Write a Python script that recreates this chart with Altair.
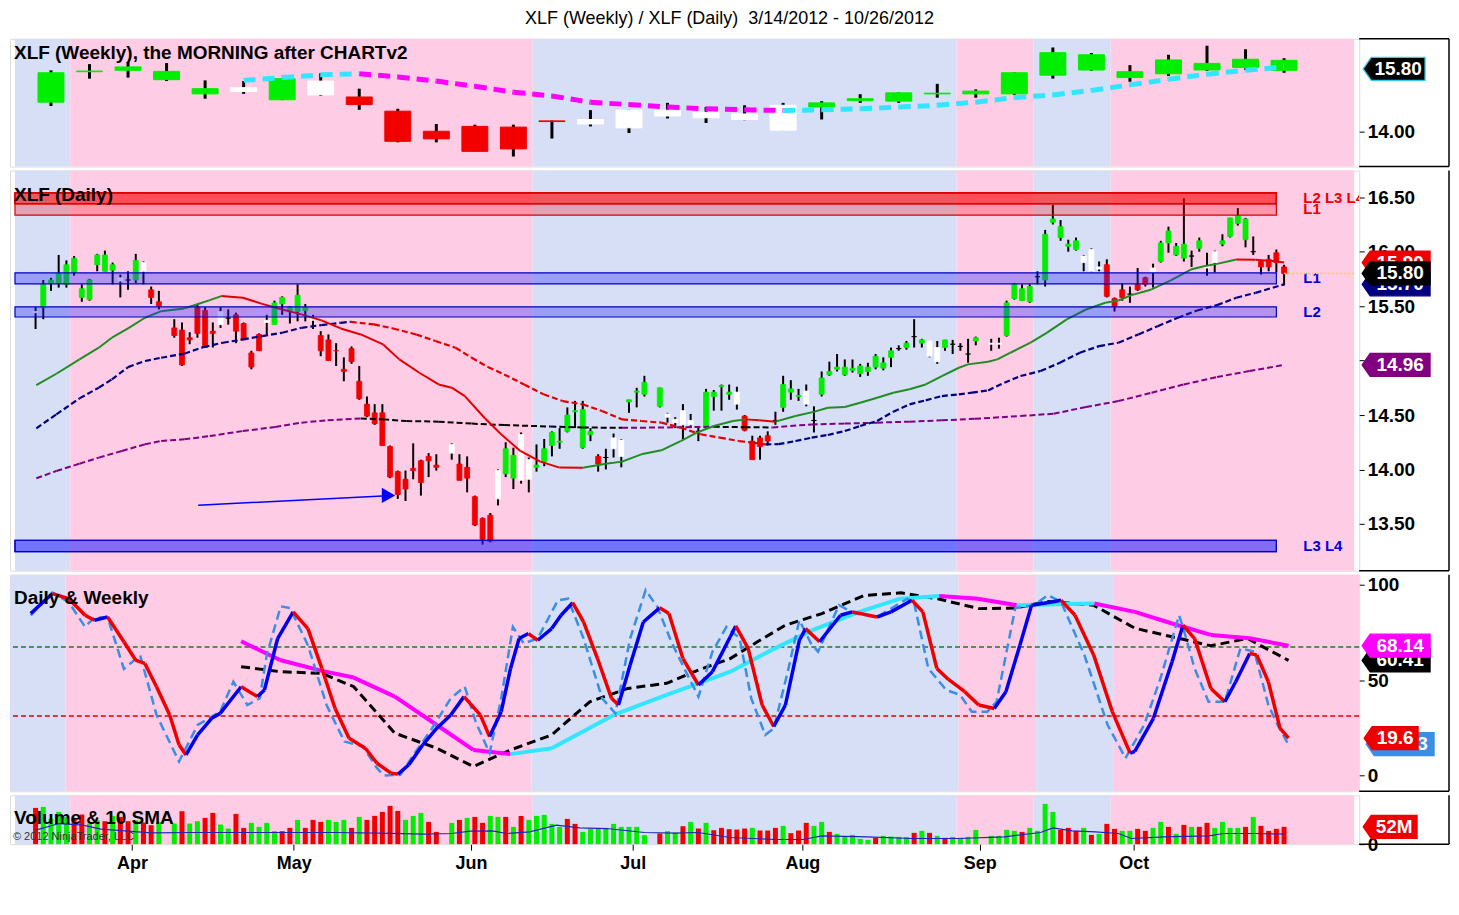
import altair as alt
import numpy as np
import pandas as pd

START, END = "2012-03-14", "2012-10-26"
HOLIDAYS = ["2012-04-06", "2012-05-28", "2012-07-04", "2012-09-03"]
MONTH_FIRST = ["2012-04-02", "2012-05-01", "2012-06-01", "2012-07-02", "2012-08-01", "2012-09-03", "2012-10-01"]
MONTH_NAMES = ["Apr", "May", "Jun", "Jul", "Aug", "Sep", "Oct"]

# ---------------- daily OHLC (one value per trading day) ----------------
d_open = [15.44,15.49,15.71,15.71,15.70,15.81,15.58,15.56,15.88,15.82,15.83,15.73,15.74,15.74,15.82,15.65,15.54,
          15.30,15.28,15.21,15.49,15.46,15.27,15.33,15.39,15.42,15.34,15.07,15.24,15.35,15.33,15.52,15.46,15.45,15.46,15.37,15.23,15.19,15.09,14.92,15.11,14.81,14.60,14.52,14.52,14.21,13.98,13.91,14.01,14.08,14.12,14.04,
          14.15,14.05,14.02,13.75,13.55,13.58,13.73,13.96,13.92,13.90,13.91,14.02,14.07,14.22,14.25,14.35,14.53,14.20,14.32,14.12,14.11,14.19,14.12,14.62,14.71,14.69,
          14.58,14.48,14.43,14.41,14.41,14.35,14.38,14.67,14.76,14.69,14.60,14.49,14.26,14.29,14.31,14.45,14.57,14.71,14.67,14.60,14.45,14.69,14.87,14.92,14.87,14.91,14.88,14.90,14.94,14.93,15.03,15.11,15.12,15.22,15.16,15.04,14.99,15.12,15.15,15.13,15.06,15.18,
          15.15,15.15,15.23,15.57,15.55,15.54,15.77,15.74,16.27,16.13,16.05,16.02,15.90,15.82,15.84,15.88,15.57,15.65,15.61,15.70,15.76,15.81,15.91,16.08,15.97,15.94,15.96,16.03,15.85,15.90,16.07,16.14,16.26,16.11,16.00,15.91,15.93,15.99,15.86]
d_high = [15.49,15.74,15.76,15.97,15.92,15.96,15.70,15.75,15.98,16.01,15.90,15.79,15.82,15.98,15.91,15.68,15.64,
          15.38,15.35,15.26,15.52,15.49,15.35,15.49,15.47,15.44,15.35,15.09,15.25,15.42,15.55,15.59,15.50,15.70,15.52,15.42,15.27,15.24,15.16,15.03,15.13,14.95,14.67,14.60,14.60,14.22,13.99,13.99,14.24,14.09,14.15,14.14,
          14.24,14.14,14.12,13.76,13.56,13.60,14.00,14.25,14.20,14.34,14.11,14.23,14.28,14.35,14.38,14.57,14.63,14.63,14.38,14.14,14.19,14.33,14.28,14.64,14.75,14.86,
          14.75,14.52,14.48,14.60,14.51,14.40,14.74,14.73,14.78,14.78,14.76,14.50,14.31,14.31,14.35,14.53,14.86,14.82,14.74,14.78,14.58,14.90,14.99,15.06,15.01,15.01,14.97,14.98,15.06,15.03,15.12,15.14,15.18,15.38,15.20,15.18,15.18,15.19,15.19,15.16,15.20,15.22,
          15.20,15.21,15.55,15.71,15.70,15.70,15.82,16.20,16.43,16.29,16.11,16.13,15.97,16.03,15.91,15.93,15.58,15.71,15.68,15.85,15.77,15.89,16.10,16.23,16.08,16.49,16.01,16.13,15.99,16.01,16.16,16.31,16.40,16.31,16.14,15.92,15.97,16.02,15.88]
d_low = [15.29,15.38,15.64,15.67,15.67,15.78,15.54,15.55,15.82,15.82,15.70,15.58,15.65,15.71,15.70,15.52,15.47,
         15.21,14.95,15.15,15.21,15.12,15.12,15.30,15.33,15.16,15.19,14.92,15.09,15.24,15.33,15.42,15.34,15.36,15.36,15.29,15.04,15.00,14.95,14.81,14.97,14.64,14.48,14.41,14.22,13.92,13.73,13.71,13.91,13.76,13.93,13.99,
         14.09,13.90,13.79,13.48,13.31,13.33,13.67,13.93,13.82,13.87,13.79,13.98,14.03,14.12,14.19,14.34,14.38,14.19,14.26,13.98,14.00,14.11,14.02,14.52,14.57,14.67,
         14.57,14.43,14.38,14.28,14.38,14.26,14.37,14.54,14.54,14.64,14.55,14.35,14.09,14.09,14.22,14.41,14.53,14.64,14.63,14.58,14.34,14.67,14.86,14.90,14.86,14.89,14.85,14.86,14.92,14.91,14.94,15.09,15.10,15.12,15.12,15.03,14.97,15.09,15.06,15.09,14.98,15.14,
         15.09,15.11,15.22,15.56,15.55,15.53,15.70,15.68,16.25,16.10,16.00,16.01,15.82,15.81,15.82,15.58,15.45,15.55,15.53,15.64,15.68,15.67,15.90,15.99,15.96,15.91,15.86,16.00,15.78,15.81,16.05,16.13,16.24,16.04,15.97,15.79,15.82,15.81,15.69]
d_close = [15.45,15.70,15.74,15.80,15.88,15.94,15.66,15.74,15.97,15.97,15.88,15.76,15.74,15.92,15.90,15.58,15.50,
           15.23,14.96,15.19,15.25,15.12,15.25,15.45,15.39,15.27,15.19,14.94,15.09,15.37,15.53,15.58,15.49,15.60,15.49,15.40,15.09,15.00,15.09,14.90,14.99,14.65,14.49,14.42,14.22,13.93,13.77,13.82,13.99,13.88,14.08,14.02,
           14.23,13.90,13.92,13.49,13.36,13.34,13.99,14.19,14.13,14.32,14.09,14.04,14.19,14.34,14.26,14.50,14.54,14.55,14.35,14.05,14.11,14.29,14.27,14.64,14.72,14.80,
           14.75,14.51,14.46,14.54,14.45,14.35,14.71,14.71,14.77,14.71,14.71,14.36,14.09,14.21,14.26,14.45,14.78,14.74,14.68,14.72,14.45,14.84,14.90,14.94,14.94,14.93,14.95,14.94,15.04,14.98,15.09,15.11,15.16,15.22,15.19,15.18,15.12,15.19,15.15,15.13,15.06,15.21,
           15.16,15.16,15.53,15.70,15.66,15.68,15.77,16.16,16.30,16.23,16.07,16.10,15.96,16.02,15.86,15.59,15.50,15.58,15.61,15.65,15.70,15.85,16.08,16.19,16.05,16.07,15.96,16.10,15.87,16.00,16.10,16.31,16.33,16.30,16.00,15.86,15.86,15.90,15.80]
d_col = ("wggggggggggwkgwrr"
         "rrrrrrwkrrrrwgggggwrrrrrrrrrrrrrrrr"
         "wrrrrrwggwwggggggggrkwwggg"
         "gwwwwkggggwrrrrkgggwkggggggggggkgkgwwgkkkg"
         "wwggggkgggggwwwrrrkrrwggggkgwwggggkrrrr")

# daily volume (millions) and bar colours
v_vol = [109,112,77,97,82,77,89,62,72,69,85,82,69,72,65,57,67,
         62,99,62,69,79,94,59,47,91,49,64,52,64,39,39,49,73,49,73,67,73,67,73,49,82,73,85,97,115,100,73,85,94,67,37,
         64,73,79,82,64,85,82,82,52,85,73,85,88,61,52,76,61,37,46,46,49,61,52,52,52,27,
         32,39,35,54,67,47,64,42,49,45,44,47,49,41,41,49,55,33,41,64,55,67,37,31,24,28,16,13,19,25,23,22,21,34,40,34,25,19,22,19,22,43,
         25,25,43,40,37,49,40,121,97,43,49,40,49,28,31,61,46,40,40,46,40,49,67,52,31,58,52,52,64,49,67,49,49,52,82,55,40,46,52]
v_col = ("rggggrrggrgrrgrrg"
         "grggrrggrrggggrrgrrrgggrgrrrrrgggrr"
         "grgrrggrgrgggggrrggggggggg"
         "rggrgrgrrrrrgrrrgrrrggrgggggrggggrgrgrgggg"
         "ggggrggggrrrgrgrrggrrggrgrgrrggggrgrrrr")
vsma_x = [0,3.1,6.1,8.5,12,15,20.9,26.8,32.7,38.6,44.6,50.5,54,56.4,59.3,61.1,64.1,67.6,70.6,74.1,79,83,86,90.1,96.0,
          99.6,102.0,107.9,113.8,119.7,125.7,130.4,132.0,134.5,137.5,140.5,142.2,146.4,152.3,154.1,158.2,162.0]
vsma_y = [42,62,57,45,39,34,35,35,35,35,33,30,32,39,40,32,37,57,49,47,35,33,35,20,14,14,25,22,17,17,22,35,49,40,37,32,17,22,25,32,32,30]

# ---------------- weekly OHLC (week ending Fridays) ----------------
w_open = [14.84,15.72,15.76,15.49,15.08,15.15,14.91,15.05,14.99,14.58,14.00,14.14,14.12,14.30,14.21,14.10,14.44,
          14.39,14.34,14.03,14.70,14.89,14.87,15.08,15.08,15.08,15.62,15.77,15.55,15.66,15.77,15.84,15.76]
w_close = [15.69,15.74,15.86,15.73,15.23,15.26,15.52,15.45,14.77,13.71,13.78,13.42,13.49,14.28,14.34,14.61,14.61,
           14.55,14.50,14.75,14.82,14.94,15.11,15.10,15.16,15.69,16.27,16.21,15.72,16.06,15.96,16.08,16.05]
w_high = [15.76,15.94,16.00,15.97,15.47,15.45,15.54,15.68,15.23,14.65,14.21,14.19,14.19,14.31,14.61,14.62,14.82,
          14.70,14.75,14.82,14.87,15.07,15.12,15.37,15.21,15.70,16.42,16.26,15.91,16.21,16.47,16.37,16.11]
w_low = [14.73,15.52,15.55,15.45,14.94,15.08,14.90,15.02,14.62,13.68,13.68,13.42,13.27,13.79,14.14,13.95,14.37,
         14.24,14.32,14.03,14.34,14.82,14.82,14.97,14.97,15.05,15.52,15.75,15.43,15.60,15.74,15.77,15.69]
w_col = "gggggwgwrrrrrrwwwwwwggggggggggggg"
wma_vals = [15.47,15.55,15.63,15.66,15.57,15.45,15.30,15.13,15.02,14.84,14.77,14.70,14.65,14.62,14.60,14.62,14.65,
            14.70,14.75,14.84,14.97,15.05,15.18,15.34,15.50,15.65,15.76,15.86]   # from week 6

# ---------------- daily moving averages (slot, value) ----------------
ma1_x = [0.1,2.7,5.7,8.2,9.9,12.0,14.2,16.3,19.3,20.9,22.6,24.1,26.9,29.4,32.0,34.5,37.1,39.6,42.2,45.1,47.2,49.8,52.3,54.0,55.7,
         58.3,60.4,62.9,65.5,68.0,71.0,74.0,76.1,78.6,81.2,83.7,85.8,88.0,90.5,92.2,93.9,96.0,98.6,101.1,102.8,105.0,107.0,109.2,
         111.3,113.4,115.5,117.6,119.8,121.0,123.6,124.8,126.5,129.1,131.2,133.8,136.3,138.8,140.5,142.2,144.8,147.3,149.9,151.6,
         153.3,155.8,158.3,160.9,162.0]
ma1_y = [14.775,14.879,15.011,15.118,15.210,15.295,15.393,15.454,15.479,15.515,15.555,15.592,15.577,15.521,15.469,15.424,15.369,
         15.295,15.240,15.148,15.011,14.888,14.781,14.751,14.674,14.470,14.323,14.170,14.072,14.017,14.016,14.053,14.072,14.139,
         14.176,14.261,14.338,14.399,14.445,14.460,14.451,14.439,14.491,14.531,14.567,14.573,14.613,14.659,14.705,14.736,14.781,
         14.858,14.934,14.965,14.989,15.011,15.072,15.164,15.255,15.378,15.469,15.531,15.552,15.601,15.653,15.736,15.836,15.867,
         15.888,15.928,15.927,15.913,15.900]
ma2_x = [0.1,2.7,5.7,8.2,9.9,12.0,14.2,16.3,19.3,21.8,24.3,26.9,29.4,32.0,34.5,37.1,39.6,40.9,43.9,46.4,49.4,51.9,54.5,56.6,58.7,
         60.8,63.4,65.9,68.4,71.0,73.5,76.1,78.6,81.2,83.7,86.3,88.8,91.3,93.0,94.7,96.4,98.6,100.7,102.8,105.0,107.0,109.2,111.3,
         113.4,115.5,117.6,119.8,121.5,123.6,125.7,127.8,130.4,132.9,135.5,138.0,140.5,143.1,145.6,148.2,150.7,153.3,155.8,158.3,162.0]
ma2_y = [14.378,14.506,14.653,14.751,14.827,14.940,14.996,15.026,15.063,15.124,15.164,15.194,15.225,15.255,15.301,15.326,15.347,
         15.356,15.332,15.295,15.240,15.179,15.118,15.026,14.940,14.873,14.781,14.690,14.628,14.598,14.537,14.460,14.445,14.430,
         14.384,14.323,14.292,14.261,14.246,14.231,14.232,14.261,14.292,14.317,14.353,14.399,14.445,14.531,14.598,14.635,14.674,
         14.690,14.705,14.726,14.797,14.858,14.904,14.980,15.072,15.133,15.164,15.240,15.316,15.393,15.460,15.509,15.577,15.622,15.700]
ma3_x = [0.1,2.7,5.7,8.2,11.2,14.2,16.3,19.3,22.6,26.9,31.1,34.5,37.9,42.2,45.1,48.1,52.3,56.6,60.8,66.8,71.0,76.1,82.0,88.0,
         92.0,95.6,100.7,105.0,109.2,113.4,117.6,121.9,127.8,132.1,136.3,140.5,144.8,149.0,153.3,157.5,162.0]
ma3_y = [13.919,13.986,14.053,14.109,14.170,14.231,14.261,14.277,14.307,14.353,14.390,14.430,14.451,14.469,14.460,14.445,14.439,
         14.421,14.408,14.394,14.386,14.382,14.386,14.392,14.388,14.386,14.414,14.421,14.430,14.439,14.451,14.465,14.491,14.512,
         14.573,14.628,14.705,14.781,14.849,14.904,14.960]

# ---------------- stochastics (slot, value) ----------------
kd_x = [0.0,2.8,4.9,7.0,8.2,9.9,12.0,13.5,14.7,16.2,17.9,19.1,20.0,21.5,23.3,24.4,27.1,29.2,30.1,31.8,33.8,35.7,37.5,39.2,41.0,
        43.1,44.6,46.4,47.3,48.7,50.5,52.3,54.1,55.8,57.9,59.1,60.6,61.8,62.9,64.1,65.3,67.1,68.3,69.8,71.2,73.0,74.8,75.7,77.2,
        78.9,81.0,82.2,84.0,86.0,87.8,90.1,90.8,92.4,94.2,95.7,97.2,99.0,99.8,101.6,104.3,105.8,109.0,110.8,113.5,114.9,116.7,
        118.2,120.3,122.1,124.1,125.6,127.4,128.9,131.5,132.7,134.5,136.9,139.3,141.6,142.2,144.6,147.0,148.4,149.9,152.0,153.8,
        155.2,157.0,157.9,159.4,160.9,162.0]
kd_y = [85.0,95.5,92.8,84.1,81.5,83.2,70.2,60.6,58.8,46.6,31.8,16.1,10.8,21.3,30.0,32.6,46.6,41.4,44.9,71.9,85.9,77.1,56.2,35.2,
        19.5,14.3,6.4,1.2,0.7,5.6,16.1,24.8,31.8,41.4,31.8,20.4,33.5,56.2,71.9,74.5,71.0,77.1,84.1,90.7,80.6,61.4,40.5,37.0,58.0,
        80.6,88.0,85.0,61.4,47.5,54.5,72.8,78.5,66.7,37.0,25.7,37.0,71.0,77.1,70.2,84.1,85.9,83.2,85.9,92.0,85.9,56.2,50.4,44.0,
        37.0,35.2,44.0,68.4,89.4,91.1,92.0,84.1,63.3,33.5,11.7,12.6,30.0,59.7,78.9,71.9,45.7,38.7,49.2,64.0,63.3,49.2,24.8,19.6]
kk_x = [0.0,2.8,4.9,7.0,8.2,9.9,12.0,14.1,16.2,19.1,21.5,24.4,26.1,27.9,29.5,30.4,32.2,33.4,35.7,38.1,40.4,42.8,44.6,45.5,47.6,
        49.3,51.7,54.1,55.9,57.3,59.1,60.6,62.1,63.5,65.3,67.9,69.2,71.2,73.6,75.3,77.2,79.2,80.7,82.5,84.6,86.0,87.8,89.6,91.3,
        92.8,94.6,95.7,97.5,99.0,100.5,101.4,104.1,106.2,109.0,112.9,113.8,115.6,117.9,119.7,121.2,123.2,124.4,126.8,129.2,131.0,
        132.7,135.7,138.7,141.0,143.4,145.5,147.9,148.4,149.9,151.7,153.8,155.8,157.6,159.4,160.6,162.0]
kk_y = [84.0,96.0,91.0,78.0,83.0,83.0,56.0,63.0,31.8,7.3,26.5,33.5,49.2,37.0,40.5,63.3,88.8,87.9,68.4,37.0,17.8,15.2,3.8,0.0,0.3,
        10.8,24.8,40.5,46.6,28.3,11.7,40.5,78.0,69.3,72.0,92.0,92.8,71.9,40.5,32.6,71.9,97.3,88.5,70.2,52.7,41.4,65.0,78.0,72.0,
        40.5,21.3,24.8,54.5,81.5,69.3,65.0,89.4,85.0,83.2,92.8,90.2,56.2,44.9,42.3,33.5,33.5,38.7,87.9,89.4,94.7,91.1,63.3,26.5,
        9.1,26.5,50.9,84.1,78.0,56.2,38.7,38.7,66.7,65.0,37.0,26.5,16.1]
wd_x = [27.1,32.1,37.5,41.6,46.9,52.3,57.0,61.8,67.1,75.1,81.9,86.0,90.1,95.4,100.7,106.7,112.0,117.0,122.0,127.0,132.0,137.0,
        142.2,147.0,152.0,157.0,162.0]
wd_y = [70.5,60.6,54.9,51.4,41.4,26.5,13.4,11.2,14.3,31.8,42.3,48.4,54.5,65.8,76.3,85.9,92.8,94.2,92.8,89.4,89.9,90.3,85.9,79.8,
        73.8,72.0,68.14]
wk_x = [27.1,32.1,37.5,41.6,46.9,52.3,57.0,61.8,67.1,72.0,76.9,81.9,86.0,90.1,93.6,97.2,101.9,107.3,112.1,117.1,122.1,126.8,
        130.9,136.9,142.2,147.0,152.0,156.7,162.0]
wk_y = [57.1,54.5,53.6,46.6,22.2,14.3,4.7,13.4,21.3,38.7,45.7,48.4,55.4,61.4,70.2,78.9,85.0,94.5,95.9,92.5,87.6,87.9,91.4,89.4,
        77.3,72.8,68.1,71.9,60.41]
stoch_levels = [67.5, 31.2]

# shading periods (slot boundaries) and price bands
shade_edges = [-2.67, 4.5, 64.5, 119.5, 129.5, 139.5, 171.1]
shade_kind = ["b", "p", "b", "p", "b", "p"]
band_lo = [16.335, 16.44, 16.44, 16.44, 15.705, 15.40, 13.246, 13.246]
band_hi = [16.44, 16.54, 16.54, 16.54, 15.806, 15.494, 13.35, 13.35]
band_kind = ["r", "r", "r", "r", "b", "b", "b", "b"]
band_end = 161.0
lvl_text = ["L2 L3 L4", "L1", "L1", "L2", "L3 L4"]
lvl_y = [16.49, 16.39, 15.755, 15.447, 13.298]
lvl_kind = ["r", "r", "b", "b", "b"]

# ---------------- derived tables ----------------
trade_days = [d.strftime("%Y-%m-%d") for d in pd.bdate_range(START, END) if d.strftime("%Y-%m-%d") not in HOLIDAYS]
assert len(trade_days) == len(d_open) == len(d_high) == len(d_low) == len(d_close) == len(d_col) == len(v_vol) == len(v_col)
d_slot = np.busday_count(START, trade_days).astype(float)
w_dates = [d.strftime("%Y-%m-%d") for d in pd.date_range("2012-03-16", END, freq="W-FRI")]
assert len(w_dates) == len(w_open) == len(w_col)
w_slot = np.busday_count(START, w_dates).astype(float)
month_ticks = [float(v) - 0.5 for v in np.busday_count(START, MONTH_FIRST)]

CC = {"g": "#00EE00", "r": "#F20000", "w": "#FFFFFF", "k": "#000000"}
daily = pd.DataFrame({"slot": d_slot, "open": d_open, "high": d_high, "low": d_low, "close": d_close,
                      "col": [CC[c] for c in d_col], "vol": v_vol, "vcol": [CC[c] for c in v_col]})
weekly = pd.DataFrame({"slot": w_slot, "open": w_open, "high": w_high, "low": w_low, "close": w_close,
                       "col": [CC[c] for c in w_col]})


def segments(xv, yv, up, down):
    rows = []
    for i in range(len(xv) - 1):
        c = up if yv[i + 1] > yv[i] else down
        rows.append({"seg": i, "x": xv[i], "y": yv[i], "c": c, "o": 0})
        rows.append({"seg": i, "x": xv[i + 1], "y": yv[i + 1], "c": c, "o": 1})
    return pd.DataFrame(rows)


FONT = "Liberation Sans, Arial, sans-serif"
W = 1352
RIGHT = W + 90          # right frame edge (axis area)
H1, H2, H3, H4 = 128, 401, 217, 49
XMIN, XMAX = shade_edges[0], shade_edges[-1]
xs = alt.Scale(domain=[XMIN, XMAX], nice=False, zero=False)
PINK, BLUE = "#FFCCE6", "#D6DFF6"


def px(s):
    return (s - XMIN) / (XMAX - XMIN) * W


def X(field="slot:Q", axis=None):
    return alt.X(field, scale=xs, axis=axis, title=None)


def yaxis(values, fmt):
    return alt.Axis(orient="right", values=values, format=fmt, title=None, grid=False, domain=False,
                    ticks=True, tickSize=5, tickColor="black", labelFont=FONT, labelFontSize=19,
                    labelFontWeight="bold", labelColor="black", labelPadding=3)


bg = pd.DataFrame({"x1": shade_edges[:-1], "x2": shade_edges[1:],
                   "c": [BLUE if k == "b" else PINK for k in shade_kind]})


def bg_layer(h, axis=None):
    return alt.Chart(bg).mark_rect().encode(x=X("x1:Q", axis=axis), x2="x2:Q", y=alt.value(0), y2=alt.value(h),
                                            color=alt.Color("c:N", scale=None))


def frame(h, top=False):
    """separator lines of the panel extended across the right axis area"""
    layers = [
        alt.Chart(pd.DataFrame({"k": [0]})).mark_rule(color="black", strokeWidth=1.5).encode(
            x=alt.value(W), x2=alt.value(RIGHT), y=alt.value(h)),
        alt.Chart(pd.DataFrame({"k": [0]})).mark_rule(color="black", strokeWidth=1.5).encode(
            x=alt.value(RIGHT), y=alt.value(0), y2=alt.value(h)),
    ]
    if top:
        layers.append(alt.Chart(pd.DataFrame({"k": [0]})).mark_rule(color="black", strokeWidth=1.5).encode(
            x=alt.value(W), x2=alt.value(RIGHT), y=alt.value(0)))
    return layers


def panel_title(text, y, size=19):
    return alt.Chart(pd.DataFrame({"t": [text]})).mark_text(
        align="left", baseline="middle", font=FONT, fontSize=size, fontWeight="bold", color="black"
    ).encode(x=alt.value(4), y=alt.value(y), text="t:N")


def tag(val, label, fill, Y, width=68, dx=37, stroke=None, dy=0):
    hh = 11.5 / (width / 2)
    ti = -1 + 16 / width
    path = f"M -1 0 L {ti:.3f} {-hh:.3f} L 1 {-hh:.3f} L 1 {hh:.3f} L {ti:.3f} {hh:.3f} Z"
    df = pd.DataFrame({"v": [val], "t": [label]})
    shp = alt.Chart(df).mark_point(shape=path, size=width * width, filled=True, opacity=1, fill=fill,
                                   stroke=stroke or fill, strokeWidth=1.3, yOffset=dy
                                   ).encode(x=alt.value(W + dx), y=Y("v:Q"))
    txt = alt.Chart(df).mark_text(font=FONT, fontSize=19, fontWeight="bold", color="white", dx=4, yOffset=dy
                                  ).encode(x=alt.value(W + dx), y=Y("v:Q"), text="t:N")
    return [shp, txt]


def seg_line(df, Y, width, dash=None, axis=None):
    kw = {"strokeWidth": width}
    if dash:
        kw["strokeDash"] = dash
    return alt.Chart(df).mark_line(**kw).encode(x=X("x:Q", axis=axis), y=Y("y:Q"), detail="seg:N",
                                                color=alt.Color("c:N", scale=None), order="o:Q")


# ---------------- panel 1: weekly ----------------
ax1 = yaxis([14.0], ".2f")
ys1 = alt.Scale(domain=[12.98, 16.67], nice=False, zero=False)
Y1 = lambda f: alt.Y(f, scale=ys1, axis=ax1, title=None)
wma = segments(list(w_slot[5:]), wma_vals, "#33E5FF", "#FF00FF")
p1 = alt.layer(
    bg_layer(H1),
    alt.Chart(weekly).mark_rule(strokeWidth=3, color="black").encode(x=X(), y=Y1("low:Q"), y2="high:Q"),
    alt.Chart(weekly).mark_bar(size=26, strokeWidth=1).encode(x=X(), y=Y1("open:Q"), y2="close:Q",
                                                             color=alt.Color("col:N", scale=None),
                                                             stroke=alt.Stroke("col:N", scale=None)),
    seg_line(wma, Y1, 5, [12, 7]),
    panel_title("XLF (Weekly), the MORNING after CHARTv2", 14),
    *frame(H1, top=True),
    *tag(15.80, "15.80", "#000000", Y1, width=62, dx=35, stroke="#33CCEE"),
).properties(width=W, height=H1)

# ---------------- panel 2: daily ----------------
ax2 = yaxis([13.5, 14.0, 14.5, 15.0, 15.5, 16.0, 16.5], ".2f")
ys2 = alt.Scale(domain=[13.07, 16.745], nice=False, zero=False)
Y2 = lambda f: alt.Y(f, scale=ys2, axis=ax2, title=None)
bands = pd.DataFrame({"lo": band_lo, "hi": band_hi, "start": XMIN, "end": band_end,
                      "f": ["#FF0000" if k == "r" else "#2828FF" for k in band_kind],
                      "s": ["#DD0000" if k == "r" else "#0000C0" for k in band_kind],
                      "a": [0.27 if k == "r" else 0.35 for k in band_kind]})
lvls = pd.DataFrame({"t": lvl_text, "y": lvl_y, "c": ["#EE0000" if k == "r" else "#0000DD" for k in lvl_kind]})
arrow = pd.DataFrame({"x": [21.1, 45.0], "y": [13.671, 13.757]})
head = pd.DataFrame({"x": [45.8], "y": [13.762]})
pline = pd.DataFrame({"x": [162.0], "x2": [XMAX], "y": [15.80]})
p2 = alt.layer(
    bg_layer(H2),
    alt.Chart(daily).mark_rule(strokeWidth=2, color="black").encode(x=X(), y=Y2("low:Q"), y2="high:Q"),
    alt.Chart(daily).mark_bar(size=5, strokeWidth=0.8).encode(x=X(), y=Y2("open:Q"), y2="close:Q",
                                                             color=alt.Color("col:N", scale=None),
                                                             stroke=alt.Stroke("col:N", scale=None)),
    seg_line(segments(ma3_x, ma3_y, "#800080", "#000000"), Y2, 2, [6, 3]),
    seg_line(segments(ma2_x, ma2_y, "#000080", "#E00000"), Y2, 2.2, [6, 3]),
    seg_line(segments(ma1_x, ma1_y, "#228B22", "#E00000"), Y2, 2),
    alt.Chart(bands).mark_rect(strokeWidth=1.2, strokeOpacity=1).encode(
        x=X("start:Q"), x2="end:Q", y=Y2("lo:Q"), y2="hi:Q",
        fill=alt.Fill("f:N", scale=None), stroke=alt.Stroke("s:N", scale=None),
        fillOpacity=alt.FillOpacity("a:Q", scale=None)),
    alt.Chart(lvls).mark_text(align="left", baseline="middle", font=FONT, fontSize=15, fontWeight="bold", clip=True
                              ).encode(x=alt.value(px(163.9)), y=Y2("y:Q"), text="t:N",
                                       color=alt.Color("c:N", scale=None)),
    alt.Chart(pline).mark_rule(color="#FFD700", strokeDash=[2, 2], strokeWidth=1.5).encode(
        x=X("x:Q"), x2="x2:Q", y=Y2("y:Q")),
    alt.Chart(arrow).mark_line(color="#0000FF", strokeWidth=1.5).encode(x=X("x:Q"), y=Y2("y:Q")),
    alt.Chart(head).mark_point(shape="triangle-right", size=240, filled=True, opacity=1, color="#0000FF"
                               ).encode(x=X("x:Q"), y=Y2("y:Q")),
    panel_title("XLF (Daily)", 25),
    *frame(H2),
    *tag(15.90, "15.90", "#EE0000", Y2),
    *tag(15.70, "15.70", "#000080", Y2),
    *tag(15.80, "15.80", "#000000", Y2),
    *tag(14.96, "14.96", "#800080", Y2),
).properties(width=W, height=H2)

# ---------------- panel 3: stochastics ----------------
ax3 = yaxis([0, 50, 100], "d")
ys3 = alt.Scale(domain=[-8.3, 105.4], nice=False, zero=False)
Y3 = lambda f: alt.Y(f, scale=ys3, axis=ax3, title=None)
levels = pd.DataFrame({"v": stoch_levels, "c": ["#1E7B1E", "#E00000"]})
kk = pd.DataFrame({"x": kk_x, "y": kk_y})
wk = pd.DataFrame({"x": wk_x, "y": wk_y})
p3 = alt.layer(
    bg_layer(H3),
    alt.Chart(levels).mark_rule(strokeDash=[5, 3], strokeWidth=1.5).encode(y=Y3("v:Q"), color=alt.Color("c:N", scale=None)),
    alt.Chart(wk).mark_line(color="black", strokeWidth=3, strokeDash=[9, 5]).encode(x=X("x:Q"), y=Y3("y:Q")),
    seg_line(segments(wd_x, wd_y, "#33E5FF", "#FF00FF"), Y3, 4),
    alt.Chart(kk).mark_line(color="#3A8EE6", strokeWidth=2.5, strokeDash=[9, 5]).encode(x=X("x:Q"), y=Y3("y:Q")),
    seg_line(segments(kd_x, kd_y, "#0000EE", "#EE0000"), Y3, 3.5),
    panel_title("Daily & Weekly", 23),
    *frame(H3),
    *tag(60.41, "60.41", "#000000", Y3),
    *tag(68.14, "68.14", "#FF00FF", Y3),
    *tag(16.5, "16.13", "#3A8EE6", Y3, dx=41),
    *tag(19.6, "19.6", "#EE0000", Y3, width=54, dx=32),
).properties(width=W, height=H3)

# ---------------- panel 4: volume ----------------
ax4 = yaxis([0], "d")
ys4 = alt.Scale(domain=[0, 147], nice=False, zero=True)
Y4 = lambda f: alt.Y(f, scale=ys4, axis=ax4, title=None)
xaxis = alt.Axis(values=month_ticks, title=None, grid=False, domain=False, tickSize=6, tickColor="black",
                 labelFont=FONT, labelFontSize=18, labelFontWeight="bold", labelColor="black", labelPadding=4,
                 labelExpr=f"{MONTH_NAMES}[indexof({month_ticks}, datum.value)]")
vsma = pd.DataFrame({"x": vsma_x, "y": vsma_y})
p4 = alt.layer(
    bg_layer(H4, axis=xaxis),
    alt.Chart(daily).mark_bar(size=5).encode(x=X("slot:Q", axis=xaxis), y=Y4("vol:Q"),
                                             color=alt.Color("vcol:N", scale=None)),
    alt.Chart(vsma).mark_line(color="#2222BB", strokeWidth=1.2).encode(x=X("x:Q", axis=xaxis), y=Y4("y:Q")),
    panel_title("Volume & 10 SMA", 23),
    alt.Chart(pd.DataFrame({"t": ["\u00a9 2012 NinjaTrader, LLC"]})).mark_text(
        align="left", baseline="middle", font=FONT, fontSize=11, color="#333333"
    ).encode(x=alt.value(3), y=alt.value(42), text="t:N"),
    *frame(H4),
    *tag(52, "52M", "#EE0000", Y4, width=54, dx=31),
).properties(width=W, height=H4)

chart = alt.vconcat(p1, p2, p3, p4, spacing=0).resolve_scale(
    x="independent", y="independent"
).properties(
    title=alt.TitleParams("XLF (Weekly) / XLF (Daily)\u00a0\u00a03/14/2012 - 10/26/2012", font=FONT, fontSize=18,
                          fontWeight="normal", color="black", anchor="middle", offset=10),
    padding={"left": 0, "top": 0, "right": 0, "bottom": 0},
).configure_view(stroke="black", strokeWidth=1.5).configure(background="white")

chart.save("out.html", embed_options={"renderer": "svg", "actions": False})
